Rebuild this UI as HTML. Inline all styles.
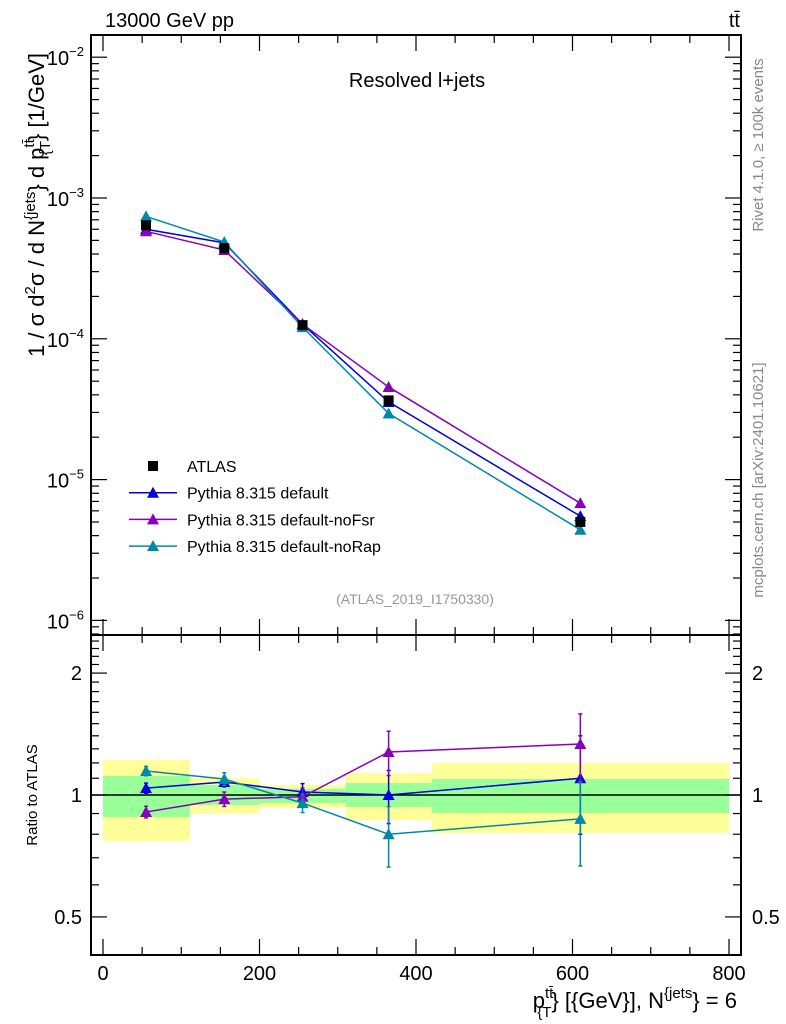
<!DOCTYPE html>
<html><head><meta charset="utf-8"><style>
html,body{margin:0;padding:0;background:#fff;}
svg{display:block;font-family:"Liberation Sans",sans-serif;}
</style></head><body>
<svg id="c" width="786" height="1024" viewBox="0 0 786 1024" xmlns="http://www.w3.org/2000/svg">
<text x="105" y="27" font-size="20">13000 GeV pp</text>
<text x="740" y="27" font-size="20" text-anchor="end">tt̄</text>
<text x="417" y="87" font-size="20" text-anchor="middle">Resolved l+jets</text>
<text x="415" y="604" font-size="14" fill="#999" text-anchor="middle">(ATLAS_2019_I1750330)</text>
<text transform="translate(763,145) rotate(-90)" font-size="15" fill="#888" text-anchor="middle">Rivet 4.1.0, ≥ 100k events</text>
<text transform="translate(763,480) rotate(-90)" font-size="15" fill="#888" text-anchor="middle">mcplots.cern.ch [arXiv:2401.10621]</text>
<text transform="translate(44,205) rotate(-90)" font-size="22" text-anchor="middle">1 / σ d<tspan font-size="15" dy="-9">2</tspan><tspan dy="9">σ / d N</tspan><tspan font-size="15" dy="-9">{jets</tspan><tspan dy="9">} d p</tspan><tspan font-size="15" dy="-10">tt̄</tspan><tspan font-size="15" dx="-16" dy="16">{T</tspan><tspan dy="-6">} [1/GeV]</tspan></text>
<text transform="translate(37,795) rotate(-90)" font-size="15" text-anchor="middle">Ratio to ATLAS</text>
<text x="737" y="1008" font-size="22" text-anchor="end">p<tspan font-size="15" dy="-10">tt̄</tspan><tspan font-size="15" dx="-16" dy="19">{T</tspan><tspan dy="-9">} [{GeV}], N</tspan><tspan font-size="15" dy="-10">{jets</tspan><tspan dy="10">} = 6</tspan></text>
<g id="g"></g>
</svg>
<script>
const binEdges=[0,111,200,310,420,800];
const xCenters=[55,155,255,365,610];
const atlas=[6.4e-4,4.4e-4,1.25e-4,3.65e-5,5.0e-6];
const mcDefault=[6.0e-4,4.8e-4,1.27e-4,3.56e-5,5.5e-6];
const mcNoFsr=[5.8e-4,4.27e-4,1.27e-4,4.55e-5,6.8e-6];
const mcNoRap=[7.4e-4,4.87e-4,1.21e-4,2.95e-5,4.4e-6];
const ratioDefault=[1.04,1.077,1.017,1.0,1.10];
const ratioNoFsr=[0.908,0.977,0.99,1.277,1.336];
const ratioNoRap=[1.146,1.095,0.955,0.80,0.873];
const errDefault=[0.03,0.03,0.05,0.15,0.3];
const errNoFsr=[0.03,0.04,0.05,0.16,0.25];
const errNoRap=[0.03,0.04,0.05,0.136,0.205];
const bandInnerLo=[0.882,0.945,0.955,0.934,0.903];
const bandInnerHi=[1.114,1.058,1.035,1.07,1.095];
const bandOuterLo=[0.77,0.90,0.929,0.867,0.806];
const bandOuterHi=[1.22,1.10,1.058,1.133,1.199];
const xTicks=[0,200,400,600,800];
const yTicks=[-2,-3,-4,-5,-6];
const rTicks=[0.5,1,2];

const L=91,R=741,T=35,M=635,B=955;
const X=v=>103+v*(729-103)/800;
const Y=v=>198-(Math.log10(v)+3)*140.8;
const RY=v=>795-Math.log10(v)*405;
const g=document.getElementById('g');
const NS='http://www.w3.org/2000/svg';
function mk(t,a,p){const e=document.createElementNS(NS,t);for(const k in a)e.setAttribute(k,a[k]);(p||g).appendChild(e);return e;}

for(let i=0;i<5;i++){
  const o=mk('rect',{x:X(binEdges[i]),y:RY(bandOuterHi[i]),width:X(binEdges[i+1])-X(binEdges[i]),height:RY(bandOuterLo[i])-RY(bandOuterHi[i]),fill:'#ffff99'});
  
  
  const n=mk('rect',{x:X(binEdges[i]),y:RY(bandInnerHi[i]),width:X(binEdges[i+1])-X(binEdges[i]),height:RY(bandInnerLo[i])-RY(bandInnerHi[i]),fill:'#99ff99'});
  
  
}
const one=mk('line',{x1:L,x2:R,y1:RY(1),y2:RY(1),stroke:'#000','stroke-width':1.5});



for(const [y1,y2] of [[T,M],[M,B]]){
  const f=mk('rect',{x:L,y:y1,width:R-L,height:y2-y1,fill:'none',stroke:'#000','stroke-width':2});
  
  
}
for(let v=0;v<=800;v+=50){
  const big=v%200===0, len=big?16:8;
  for(const [a,b] of [[T,1],[M,-1],[M,1],[B,-1]]){
    mk('line',{x1:X(v),x2:X(v),y1:a,y2:a+b*len,stroke:'#000','stroke-width':1.2});
  }
}
xTicks.forEach(v=>{const t=mk('text',{x:X(v),y:980,'font-size':20,'text-anchor':'middle'});t.textContent=v;

});
for(let d=-7;d<=-2;d++){for(let k=1;k<10;k++){const v=k*Math.pow(10,d);const y=Y(v);if(y<T||y>M)continue;const len=k===1?16:8;
mk('line',{x1:L,x2:L+len,y1:y,y2:y,stroke:'#000','stroke-width':1.2});mk('line',{x1:R,x2:R-len,y1:y,y2:y,stroke:'#000','stroke-width':1.2});}}
yTicks.forEach(d=>{const t=mk('text',{x:84,y:Y(Math.pow(10,d))+8,'font-size':20,'text-anchor':'end'});t.innerHTML='10<tspan font-size="13" dy="-9">'+(d).toString().replace('-','−')+'</tspan>';

});
for(let v=0.4;v<=2.5;v+=0.1){const y=RY(v);if(y<M||y>B)continue;const big=[0.5,1,2].some(z=>Math.abs(z-v)<1e-6);const len=big?16:8;
mk('line',{x1:L,x2:L+len,y1:y,y2:y,stroke:'#000','stroke-width':1.2});mk('line',{x1:R,x2:R-len,y1:y,y2:y,stroke:'#000','stroke-width':1.2});}
rTicks.forEach(v=>{for(const [x,a] of [[82,'end'],[752,'start']]){const t=mk('text',{x:x,y:RY(v)+7,'font-size':20,'text-anchor':a});t.textContent=v;

}});

function tri(x,y,c,name){const p=mk('polygon',{points:`${x},${y-6} ${x-6},${y+5} ${x+6},${y+5}`,fill:c});

}
const series=[['default','#0000dd',mcDefault,ratioDefault,errDefault],['noFsr','#8800bb',mcNoFsr,ratioNoFsr,errNoFsr],['noRap','#0088aa',mcNoRap,ratioNoRap,errNoRap]];
series.forEach(([nm,c,mc,r,e])=>{
  const pl=mk('polyline',{points:xCenters.map((x,i)=>X(x)+','+Y(mc[i])).join(' '),fill:'none',stroke:c,'stroke-width':1.5});
  
  
  xCenters.forEach((x,i)=>tri(X(x),Y(mc[i]),c,'point-'+nm));
  const rl=mk('polyline',{points:xCenters.map((x,i)=>X(x)+','+RY(r[i])).join(' '),fill:'none',stroke:c,'stroke-width':1.5});
  
  
  xCenters.forEach((x,i)=>{const y1=RY(r[i]+e[i]),y2=RY(Math.max(r[i]-e[i],0.05));
    mk('line',{x1:X(x),x2:X(x),y1:y1,y2:y2,stroke:c,'stroke-width':1.5});
    mk('line',{x1:X(x)-2,x2:X(x)+2,y1:y1,y2:y1,stroke:c,'stroke-width':1.5});
    mk('line',{x1:X(x)-2,x2:X(x)+2,y1:y2,y2:y2,stroke:c,'stroke-width':1.5});
    tri(X(x),RY(r[i]),c,'ratio-point-'+nm);});
});
xCenters.forEach((x,i)=>{const s=mk('rect',{x:X(x)-5,y:Y(atlas[i])-5,width:10,height:10,fill:'#000'});

});

const leg=[['ATLAS',null],['Pythia 8.315 default','#0000dd'],['Pythia 8.315 default-noFsr','#8800bb'],['Pythia 8.315 default-noRap','#0088aa']];
leg.forEach(([t,c],i)=>{const y=466+i*26.7;
  if(c){const l=mk('line',{x1:129,x2:177,y1:y,y2:y,stroke:c,'stroke-width':1.5});
    
    
    tri(153,y,c,'legend-marker');}
  else{const s=mk('rect',{x:148,y:y-5,width:10,height:10,fill:'#000'});
    
    }
  const tx=mk('text',{x:187,y:y+6,'font-size':16});tx.textContent=t;
  
  
});
</script>
</body></html>
